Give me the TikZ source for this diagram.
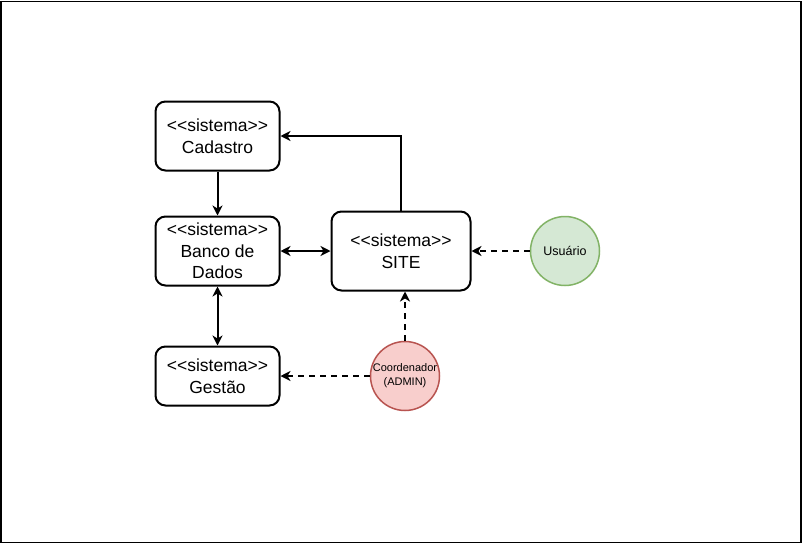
\documentclass[tikz,border=0pt]{standalone}
\usepackage{fontspec}
\setmainfont{Liberation Sans}
\usetikzlibrary{arrows.meta}
\definecolor{ugreenfill}{HTML}{D5E8D4}
\definecolor{ugreendraw}{HTML}{82B366}
\definecolor{credfill}{HTML}{F8CECC}
\definecolor{creddraw}{HTML}{B85450}
\newcommand\ltsym{\mbox{<}}
\newcommand\gtsym{\mbox{>}}
\newcommand\stereo{\ltsym\ltsym sistema\gtsym\gtsym}
\begin{document}
\begin{tikzpicture}[x=1pt,y=-1pt,
  sysbox/.style={draw=black, line width=2pt, rounded corners=10pt, fill=white,
    minimum width=124pt, align=center, inner sep=0pt,
    font=\fontsize{17.5}{21.5}\selectfont},
  actor/.style={circle, line width=1.5pt, minimum size=69pt, inner sep=0pt, align=center},
  arr/.style={line width=2pt, -{Stealth[length=10pt,width=10pt,inset=3pt]}},
  darr/.style={line width=2pt, {Stealth[length=10pt,width=10pt,inset=3pt]}-{Stealth[length=10pt,width=10pt,inset=3pt]}},
  dasharr/.style={line width=2pt, dash pattern=on 6pt off 5pt, -{Stealth[length=10pt,width=10pt,inset=3pt]}}
]
\useasboundingbox (0,0) rectangle (803,544);
\fill[white] (0,0) rectangle (803,544);
\draw[line width=1.5pt] (1,1.5) rectangle (801,542.5);

\node[sysbox, minimum height=69pt] (cad) at (217.5,136) {\stereo\\Cadastro};
\node[sysbox, minimum height=69pt] (banco) at (217.5,251) {\stereo\\Banco de\\Dados};
\node[sysbox, minimum height=59pt] (gestao) at (217.5,376) {\stereo\\Gestão};
\node[sysbox, minimum width=139pt, minimum height=79pt] (site) at (401,251) {\stereo\\SITE};
\node[actor, draw=ugreendraw, fill=ugreenfill, font=\fontsize{12.5}{14}\selectfont] (usuario) at (565,251) {Usuário};
\node[actor, draw=creddraw, fill=credfill, font=\fontsize{11}{14}\selectfont] (coord) at (405,376) {Coordenador\\(ADMIN)};

\draw[arr] (site.north) |- (cad.east);
\draw[arr] (cad) -- (banco);
\draw[darr] (banco) -- (site);
\draw[darr] (banco) -- (gestao);
\draw[dasharr] (usuario) -- (site);
\draw[dasharr] (coord.north) -- (coord.north |- site.south);
\draw[dasharr] (coord) -- (gestao);
\end{tikzpicture}
\end{document}
